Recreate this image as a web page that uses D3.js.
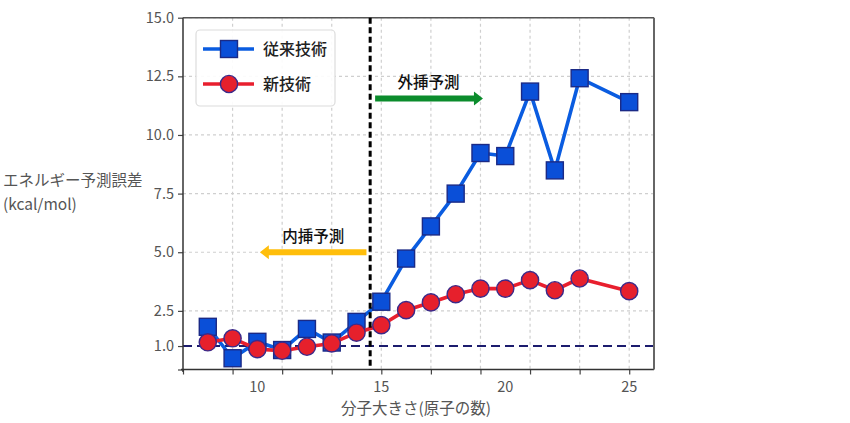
<!DOCTYPE html>
<html>
<head>
<meta charset="utf-8">
<script src="https://cdn.jsdelivr.net/npm/d3@7"></script>
<style>
  body { margin: 0; background: #fff; }
  svg { display: block; font-family: "Noto Sans CJK JP", "Noto Sans", sans-serif; }
</style>
</head>
<body>
<div id="chart"></div>
<script>
// ---- data ----
const atomCounts = [8, 9, 10, 11, 12, 13, 14, 15, 16, 17, 18, 19, 20, 21, 22, 23, 25];
const conventionalErr = [1.82, 0.48, 1.18, 0.83, 1.73, 1.15, 2.03, 2.89, 4.73, 6.1, 7.5, 9.23, 9.1, 11.85, 8.49, 12.42, 11.4];
const newErr = [1.16, 1.33, 0.87, 0.8, 0.97, 1.11, 1.57, 1.89, 2.53, 2.86, 3.21, 3.45, 3.45, 3.81, 3.38, 3.88, 3.34];
const seriesNames = ["従来技術", "新技術"];
const xTickLabels = [10, 15, 20, 25];
const xMinorTicks = [7, 9, 11, 13, 15, 17, 19, 21, 23, 25];
const yTickValues = [1.0, 2.5, 5.0, 7.5, 10.0, 12.5, 15.0];
const yGridValues = [2.5, 5.0, 7.5, 10.0, 12.5, 15.0];
const referenceErr = 1.0;
const splitX = 14.55;
const interpArrow = { from: [14.4, 5.0], to: [10.1, 5.0], label: "内挿予測", labelAt: [12.25, 5.65] };
const extrapArrow = { from: [14.75, 11.55], to: [19.1, 11.55], label: "外挿予測", labelAt: [16.9, 12.25] };
const xTitle = "分子大きさ(原子の数)";
const yTitle = ["エネルギー予測誤差", "(kcal/mol)"];

// ---- layout ----
const W = 850, H = 423;
const L = 183, R = 654, T = 17.7, B = 369.5;
const x = d3.scaleLinear().domain([7, 26]).range([L, R]);
const y = d3.scaleLinear().domain([0, 15]).range([B, T]);

const svg = d3.select("#chart").append("svg").attr("width", W).attr("height", H);

// grid
const grid = svg.append("g");
grid.selectAll("line.vx").data(xMinorTicks.filter(d => d > 7)).enter().append("line")
  .attr("x1", d => x(d)).attr("x2", d => x(d)).attr("y1", T).attr("y2", B)
  .attr("stroke", "#cfcfcf").attr("stroke-width", 1.2).attr("stroke-dasharray", "3,3");
grid.selectAll("line.hy").data(yGridValues).enter().append("line")
  .attr("x1", L).attr("x2", R).attr("y1", d => y(d)).attr("y2", d => y(d))
  .attr("stroke", "#cfcfcf").attr("stroke-width", 1.2).attr("stroke-dasharray", "3,3");

// reference line
svg.append("line").attr("x1", L).attr("x2", R).attr("y1", y(referenceErr)).attr("y2", y(referenceErr))
  .attr("stroke", "#1c1c6e").attr("stroke-width", 2).attr("stroke-dasharray", "9,5");

// axes
const xAxis = d3.axisBottom(x).tickValues(xMinorTicks).tickSize(5).tickFormat("");
svg.append("g").attr("transform", `translate(0,${B})`).call(xAxis)
  .call(g => g.select(".domain").remove())
  .call(g => g.selectAll(".tick line").attr("stroke", "#444").attr("stroke-width", 1.2));
const yAxis = d3.axisLeft(y).tickValues([0].concat(yTickValues)).tickSize(5).tickPadding(4)
  .tickFormat(d => d === 0 ? "" : d3.format(".1f")(d));
svg.append("g").attr("transform", `translate(${L},0)`).call(yAxis)
  .call(g => g.select(".domain").remove())
  .call(g => g.selectAll(".tick line").attr("stroke", "#444").attr("stroke-width", 1.2))
  .call(g => g.selectAll(".tick text").attr("fill", "#555").attr("font-size", 14.5)
    .attr("font-family", "'Noto Sans CJK JP', sans-serif"));

// x tick labels (at 10,15,20,25)
svg.append("g").selectAll("text").data(xTickLabels).enter().append("text")
  .attr("x", d => x(d)).attr("y", 392).attr("text-anchor", "middle")
  .attr("fill", "#555").attr("font-size", 14.5).text(d => d);

// frame
svg.append("line").attr("x1", L).attr("x2", L).attr("y1", T).attr("y2", B + 2.5).attr("stroke", "#333").attr("stroke-width", 1.5);
svg.append("line").attr("x1", L - 2).attr("x2", R).attr("y1", B).attr("y2", B).attr("stroke", "#333").attr("stroke-width", 1.5);
svg.append("line").attr("x1", L).attr("x2", R).attr("y1", T).attr("y2", T).attr("stroke", "#555").attr("stroke-width", 1.5);
svg.append("line").attr("x1", R).attr("x2", R).attr("y1", T).attr("y2", B).attr("stroke", "#666").attr("stroke-width", 2);

// titles
svg.append("text").attr("x", 416).attr("y", 414).attr("text-anchor", "middle")
  .attr("fill", "#555").attr("font-size", 15.5).text(xTitle);
svg.append("g").selectAll("text").data(yTitle).enter().append("text")
  .attr("x", 3).attr("y", (d, i) => 186 + i * 24)
  .attr("fill", "#555").attr("font-size", 15.5).text(d => d);

// data
const blueLine = "#0a5ce0", blueFill = "#0a4fd8", blueStroke = "#1b2a86";
const redLine = "#e81f2e", redFill = "#e6202c", redStroke = "#3b2a8a";
const blueData = atomCounts.map((a, i) => [a, conventionalErr[i]]);
const redData = atomCounts.map((a, i) => [a, newErr[i]]);
const line = d3.line().x(d => x(d[0])).y(d => y(d[1]));

const sq = 17, rc = 8.6;
svg.append("path").datum(blueData).attr("d", line).attr("fill", "none")
  .attr("stroke", blueLine).attr("stroke-width", 3.6).attr("stroke-linejoin", "round");
svg.append("g").selectAll("rect").data(blueData).enter().append("rect")
  .attr("x", d => x(d[0]) - sq / 2).attr("y", d => y(d[1]) - sq / 2)
  .attr("width", sq).attr("height", sq)
  .attr("fill", blueFill).attr("stroke", blueStroke).attr("stroke-width", 1.4);

svg.append("path").datum(redData).attr("d", line).attr("fill", "none")
  .attr("stroke", redLine).attr("stroke-width", 3.6).attr("stroke-linejoin", "round");
svg.append("g").selectAll("circle").data(redData).enter().append("circle")
  .attr("cx", d => x(d[0])).attr("cy", d => y(d[1])).attr("r", rc)
  .attr("fill", redFill).attr("stroke", redStroke).attr("stroke-width", 1.4);

// split line
svg.append("line").attr("x1", x(splitX)).attr("x2", x(splitX)).attr("y1", T).attr("y2", B)
  .attr("stroke", "#000").attr("stroke-width", 3).attr("stroke-dasharray", "6,3.5");

// arrows
function arrow(a, color) {
  const x0 = x(a.from[0]), x1 = x(a.to[0]), yy = y(a.from[1]);
  const dir = Math.sign(x1 - x0);
  const headL = 9, headW = 7, shaft = 3;
  const xb = x1 - dir * headL;
  const pts = [[x0, yy - shaft], [xb, yy - shaft], [xb, yy - headW], [x1, yy], [xb, yy + headW], [xb, yy + shaft], [x0, yy + shaft]];
  svg.append("path").attr("d", d3.line()(pts) + "Z").attr("fill", color);
  svg.append("text").attr("x", x(a.labelAt[0])).attr("y", y(a.labelAt[1]) + 5.5)
    .attr("text-anchor", "middle").attr("font-size", 15.5).attr("font-weight", 500)
    .attr("fill", "#111").text(a.label);
}
arrow(interpArrow, "#ffbe0b");
arrow(extrapArrow, "#0b8c2c");

// legend
const lg = svg.append("g");
lg.append("rect").attr("x", 196).attr("y", 30).attr("width", 139).attr("height", 76).attr("rx", 4)
  .attr("fill", "#fff").attr("fill-opacity", 0.9).attr("stroke", "#dcdcdc").attr("stroke-width", 1.2);
const legY = [49, 84];
seriesNames.forEach((name, i) => {
  const yy = legY[i];
  lg.append("line").attr("x1", 203).attr("x2", 254).attr("y1", yy).attr("y2", yy)
    .attr("stroke", i === 0 ? blueLine : redLine).attr("stroke-width", 3.6);
  if (i === 0) {
    lg.append("rect").attr("x", 229 - sq / 2).attr("y", yy - sq / 2).attr("width", sq).attr("height", sq)
      .attr("fill", blueFill).attr("stroke", blueStroke).attr("stroke-width", 1.4);
  } else {
    lg.append("circle").attr("cx", 229).attr("cy", yy).attr("r", rc)
      .attr("fill", redFill).attr("stroke", redStroke).attr("stroke-width", 1.4);
  }
  lg.append("text").attr("x", 263).attr("y", yy + 6).attr("font-size", 16).attr("font-weight", 500)
    .attr("fill", "#222").text(name);
});
</script>
</body>
</html>
